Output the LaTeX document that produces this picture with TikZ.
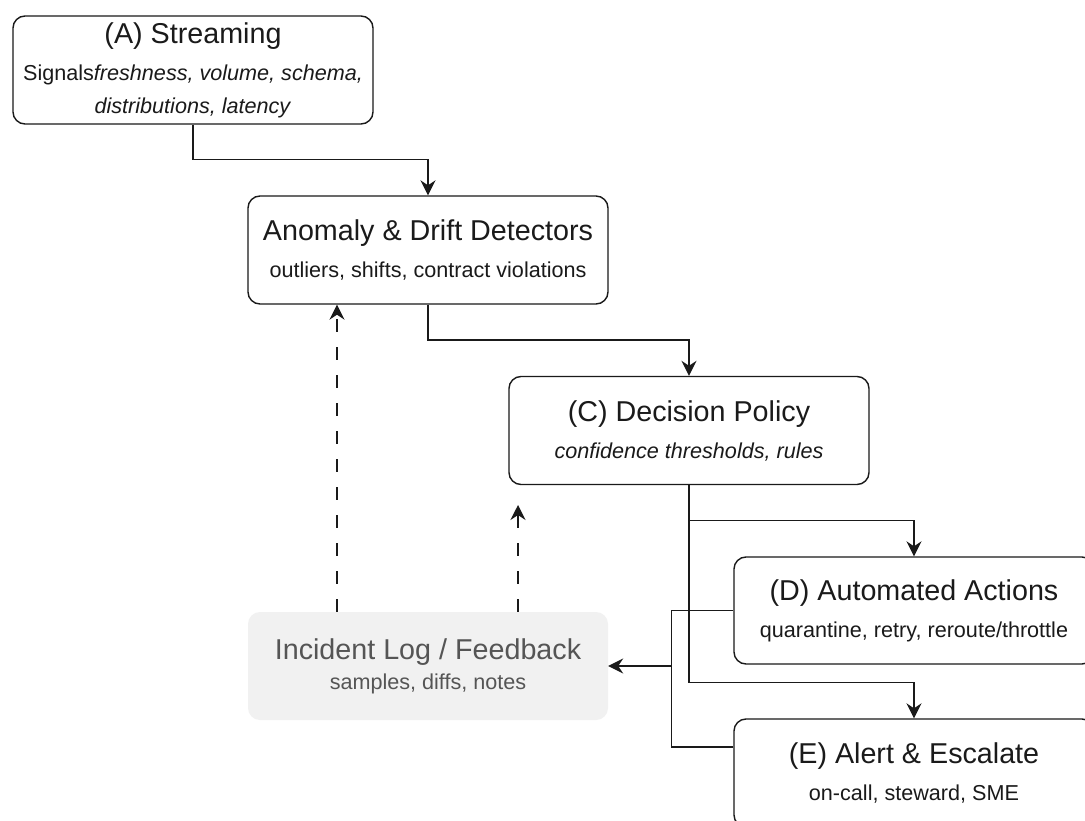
\documentclass[tikz,border=0pt]{standalone}
\usepackage{fontspec}
\setmainfont{Liberation Sans}
\usetikzlibrary{arrows.meta}

\definecolor{inkdark}{HTML}{1A1A1A}
\definecolor{logfill}{HTML}{F1F1F1}
\definecolor{logtext}{HTML}{555555}

% larger first line inside each box
\newcommand\boxtitle[1]{{\fontsize{28.7}{37}\selectfont #1}}

\begin{document}
\begin{tikzpicture}[x=1pt,y=-1pt,
  box/.style={draw=inkdark, line width=1.4pt, rounded corners=12pt,
    minimum width=360pt, minimum height=108pt, inner sep=0pt,
    align=center, text=inkdark, font=\fontsize{21.6}{37}\selectfont},
  logbox/.style={fill=logfill, draw=none, rounded corners=12pt,
    minimum width=360pt, minimum height=108pt, inner sep=0pt,
    align=center, text=logtext, font=\fontsize{21.6}{30}\selectfont},
  flow/.style={draw=inkdark, line width=1.4pt,
    -{Stealth[length=15pt,width=15pt,inset=5pt]}},
  feedback/.style={flow, dash pattern=on 13pt off 15pt},
  link/.style={draw=inkdark, line width=1.4pt}
]
\path[use as bounding box, clip] (0,0) rectangle (1085,821);
\fill[white] (0,0) rectangle (1085,821);

% stages
\node[box] (A) at (193,70)
  {\boxtitle{(A) Streaming}\\Signals\textit{freshness, volume, schema,}\\[-4pt]\textit{distributions, latency}};
\node[box] (B) at (428,250)
  {\boxtitle{Anomaly \& Drift Detectors}\\outliers, shifts, contract violations};
\node[box] (C) at (689,430.5)
  {\boxtitle{(C) Decision Policy}\\\textit{confidence thresholds, rules}};
\node[box, minimum height=107pt] (D) at (914,610.5)
  {\boxtitle{(D) Automated Actions}\\quarantine, retry, reroute/throttle};
\node[box] (E) at (914,773)
  {\boxtitle{(E) Alert \& Escalate}\\on-call, steward, SME};
\node[logbox] (I) at (428,666)
  {\boxtitle{Incident Log / Feedback}\\samples, diffs, notes};

% main flow
\draw[flow] (A.south) |- ([yshift=36pt]B.north) -- (B.north);
\draw[flow] (B.south) |- ([yshift=36pt]C.north) -- (C.north);
\draw[flow] (C.south) |- ([yshift=36pt]D.north) -- (D.north);
\draw[flow] (C.south) |- ([yshift=36pt]E.north) -- (E.north);

% outcomes logged
\coordinate (merge) at ([xshift=63pt]I.east);
\draw[flow] (D.west) -| (merge) -- (I.east);
\draw[link] ([yshift=26pt]E.west) -| (merge);

% feedback loops
\coordinate (fbtip) at ([xshift=90pt]I.north |- 0,505);
\draw[feedback] ([xshift=-91pt]I.north) -- ([xshift=-91pt]B.south);
\draw[feedback] ([xshift=90pt]I.north) -- (fbtip);
\end{tikzpicture}
\end{document}
